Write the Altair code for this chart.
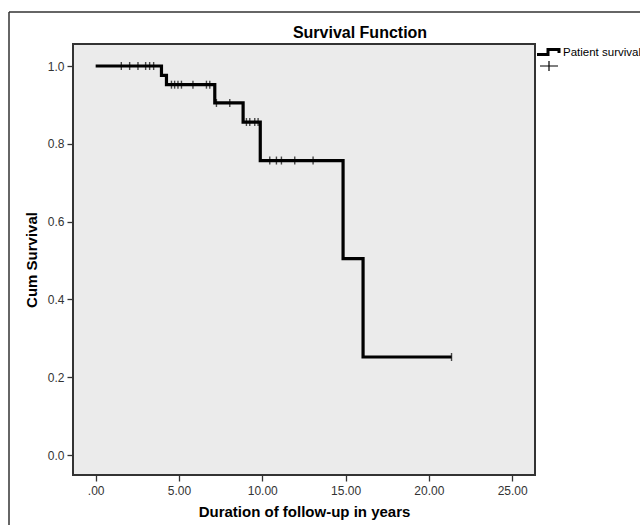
import altair as alt
import pandas as pd

# Kaplan-Meier step data
event_times = [0.0, 3.95, 4.25, 7.15, 8.85, 9.88, 14.85, 16.05]
survival = [1.0, 0.976, 0.952, 0.905, 0.856, 0.757, 0.505, 0.252]
last_followup = 21.36
censor_times = [1.54, 2.04, 2.54, 3.0, 3.24, 3.48, 4.55, 4.74, 4.94, 5.15,
                5.84, 6.65, 6.85, 7.25, 8.05, 9.05, 9.25, 9.55, 9.75,
                10.45, 10.85, 11.15, 11.95, 13.05, 21.36]
x_ticks = [0, 5, 10, 15, 20, 25]
y_ticks = [0.0, 0.2, 0.4, 0.6, 0.8, 1.0]

line_df = pd.DataFrame({
    "t": event_times + [last_followup],
    "s": survival + [survival[-1]],
})


def surv_at(t):
    s = 1.0
    for et, sv in zip(event_times, survival):
        if et <= t:
            s = sv
    return s


cens_df = pd.DataFrame({"t": censor_times, "s": [surv_at(t) for t in censor_times]})
one = pd.DataFrame({"a": [0]})

FONT = "Liberation Sans"
xscale = alt.Scale(domain=[-1.36, 26.37], nice=False, zero=False)
yscale = alt.Scale(domain=[-0.0514, 1.0566], nice=False, zero=False)

# outer frame (top and left edges visible in the reference)
frame_top = alt.Chart(one).mark_rule(color="#333333", strokeWidth=1.5).encode(
    x=alt.value(-64), x2=alt.value(600), y=alt.value(-32)
)
frame_left = alt.Chart(one).mark_rule(color="#333333", strokeWidth=1.5).encode(
    x=alt.value(-64), y=alt.value(-32), y2=alt.value(560)
)

title = alt.Chart(one).mark_text(
    text="Survival Function", align="center", baseline="middle",
    font=FONT, fontSize=16, fontWeight="bold", color="black",
).encode(x=alt.value(287), y=alt.value(-11))

xaxis = alt.Axis(
    values=x_ticks,
    labelExpr="datum.value == 0 ? '.00' : format(datum.value, '.2f')",
    title="Duration of follow-up in years",
    grid=False, domain=False,
    labelPadding=4, titlePadding=8,
)
yaxis = alt.Axis(
    values=y_ticks, format=".1f",
    title="Cum Survival",
    grid=False, domain=False,
    labelPadding=3, titlePadding=8,
)

line = alt.Chart(line_df).mark_line(
    interpolate="step-after", color="black", strokeWidth=3.2
).encode(
    x=alt.X("t:Q", scale=xscale, axis=xaxis),
    y=alt.Y("s:Q", scale=yscale, axis=yaxis),
)

ticks = alt.Chart(cens_df).mark_tick(
    orient="vertical", color="black", size=8, thickness=1.4
).encode(
    x=alt.X("t:Q", scale=xscale),
    y=alt.Y("s:Q", scale=yscale),
)

# legend (drawn outside the plot, at the right)
leg_step = alt.Chart(one).mark_point(
    shape="M-1,0.22 L0,0.22 L0,-0.22 L1,-0.22 L1,0.1",
    filled=False, stroke="black", strokeWidth=3, size=484, opacity=1,
).encode(x=alt.value(475), y=alt.value(8))

leg_cross = alt.Chart(one).mark_point(
    shape="M-1,0 L1,0 M0,-0.55 L0,0.55",
    filled=False, stroke="black", strokeWidth=1.2, size=324, opacity=1,
).encode(x=alt.value(476), y=alt.value(22))

leg_text = alt.Chart(one).mark_text(
    text="Patient survival", align="left", baseline="middle",
    font=FONT, fontSize=11.5, color="black",
).encode(x=alt.value(490), y=alt.value(9))

chart = alt.layer(frame_top, frame_left, title, line, ticks, leg_step, leg_cross, leg_text).properties(
    width=462, height=431,
    autosize=alt.AutoSizeParams(type="none"),
    padding={"left": 73, "top": 44, "right": 105, "bottom": 50},
    background="white",
).configure_view(
    fill="#ebebeb", stroke="#333333", strokeWidth=2
).configure_axis(
    labelFont=FONT, labelFontSize=12, labelColor="#333333",
    titleFont=FONT, titleFontSize=15, titleFontWeight="bold", titleColor="black",
    tickColor="#333333", tickSize=6, tickWidth=1.3,
)

chart.save("out.html", embed_options={"renderer": "svg", "actions": False})
